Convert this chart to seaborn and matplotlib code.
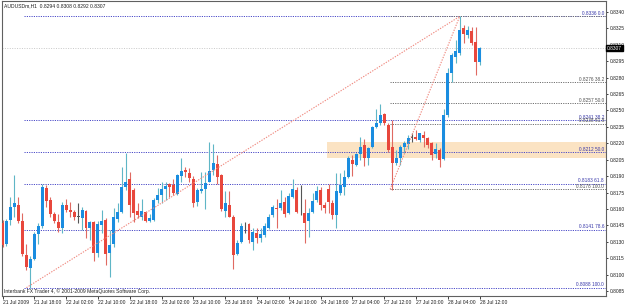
import matplotlib
matplotlib.use("Agg")
import matplotlib.pyplot as plt
import matplotlib.transforms as mtransforms
import numpy as np
import pandas as pd
import seaborn as sns

# hourly AUDUSD candles, 21 Jul 10:00 .. 28 Jul 12:00
opens = [0.8147, 0.8128, 0.8150, 0.8162, 0.8164, 0.8149, 0.8118, 0.8106, 0.8114, 0.8137,
         0.8144, 0.8179, 0.8168, 0.8155, 0.8148, 0.8143, 0.8164, 0.8159, 0.8157, 0.8153,
         0.8152, 0.8158, 0.8143, 0.8148, 0.8120, 0.8145, 0.8150, 0.8120, 0.8128, 0.8151,
         0.8157, 0.8180, 0.8187, 0.8177, 0.8158, 0.8153, 0.8157, 0.8149, 0.8150, 0.8168,
         0.8173, 0.8178, 0.8183, 0.8182, 0.8174, 0.8190, 0.8196, 0.8193, 0.8187, 0.8166,
         0.8176, 0.8178, 0.8185, 0.8196, 0.8201, 0.8191, 0.8158, 0.8164, 0.8153, 0.8119,
         0.8130, 0.8144, 0.8146, 0.8130, 0.8138, 0.8133, 0.8136, 0.8143, 0.8154, 0.8161,
         0.8161, 0.8166, 0.8156, 0.8171, 0.8177, 0.8156, 0.8156, 0.8149, 0.8157, 0.8168,
         0.8177, 0.8164, 0.8178, 0.8165, 0.8154, 0.8175, 0.8180, 0.8189, 0.8205, 0.8200,
         0.8210, 0.8218, 0.8207, 0.8217, 0.8235, 0.8239, 0.8247, 0.8237, 0.8217, 0.8202,
         0.8207, 0.8217, 0.8219, 0.8225, 0.8226, 0.8223, 0.8228, 0.8225, 0.8220, 0.8210,
         0.8214, 0.8206, 0.8246, 0.8284, 0.8299, 0.8303, 0.8325, 0.8319, 0.8323, 0.8313,
         0.8294]
highs = [0.8150, 0.8151, 0.8171, 0.8191, 0.8171, 0.8156, 0.8128, 0.8117, 0.8139, 0.8147,
         0.8183, 0.8182, 0.8171, 0.8157, 0.8155, 0.8166, 0.8169, 0.8166, 0.8159, 0.8165,
         0.8162, 0.8159, 0.8149, 0.8149, 0.8149, 0.8159, 0.8152, 0.8141, 0.8161, 0.8165,
         0.8198, 0.8211, 0.8194, 0.8179, 0.8165, 0.8169, 0.8158, 0.8155, 0.8170, 0.8179,
         0.8185, 0.8185, 0.8184, 0.8187, 0.8192, 0.8207, 0.8198, 0.8197, 0.8190, 0.8179,
         0.8194, 0.8194, 0.8221, 0.8219, 0.8209, 0.8192, 0.8176, 0.8176, 0.8154, 0.8132,
         0.8147, 0.8148, 0.8147, 0.8143, 0.8143, 0.8143, 0.8147, 0.8155, 0.8164, 0.8169,
         0.8177, 0.8171, 0.8175, 0.8187, 0.8180, 0.8182, 0.8169, 0.8161, 0.8175, 0.8181,
         0.8180, 0.8166, 0.8183, 0.8168, 0.8193, 0.8193, 0.8196, 0.8208, 0.8209, 0.8211,
         0.8226, 0.8224, 0.8217, 0.8236, 0.8251, 0.8256, 0.8248, 0.8239, 0.8241, 0.8214,
         0.8218, 0.8222, 0.8228, 0.8229, 0.8232, 0.8229, 0.8231, 0.8226, 0.8221, 0.8220,
         0.8216, 0.8251, 0.8289, 0.8303, 0.8314, 0.8336, 0.8328, 0.8327, 0.8326, 0.8326,
         0.8308]
lows = [0.8125, 0.8126, 0.8145, 0.8153, 0.8147, 0.8117, 0.8104, 0.8088, 0.8113, 0.8128,
        0.8143, 0.8162, 0.8153, 0.8147, 0.8139, 0.8138, 0.8157, 0.8153, 0.8150, 0.8147,
        0.8141, 0.8133, 0.8132, 0.8112, 0.8116, 0.8138, 0.8109, 0.8098, 0.8125, 0.8148,
        0.8156, 0.8177, 0.8153, 0.8148, 0.8152, 0.8150, 0.8148, 0.8148, 0.8149, 0.8165,
        0.8165, 0.8168, 0.8171, 0.8173, 0.8173, 0.8185, 0.8189, 0.8185, 0.8162, 0.8163,
        0.8175, 0.8160, 0.8185, 0.8191, 0.8183, 0.8158, 0.8153, 0.8153, 0.8105, 0.8118,
        0.8129, 0.8138, 0.8129, 0.8122, 0.8129, 0.8130, 0.8134, 0.8142, 0.8153, 0.8143,
        0.8159, 0.8153, 0.8155, 0.8170, 0.8156, 0.8154, 0.8129, 0.8134, 0.8156, 0.8166,
        0.8159, 0.8156, 0.8156, 0.8151, 0.8143, 0.8173, 0.8173, 0.8188, 0.8190, 0.8199,
        0.8205, 0.8199, 0.8200, 0.8216, 0.8234, 0.8237, 0.8237, 0.8212, 0.8177, 0.8200,
        0.8200, 0.8211, 0.8215, 0.8221, 0.8223, 0.8221, 0.8217, 0.8216, 0.8205, 0.8207,
        0.8198, 0.8205, 0.8244, 0.8276, 0.8293, 0.8301, 0.8312, 0.8316, 0.8310, 0.8282,
        0.8292]
closes = [0.8127, 0.8149, 0.8162, 0.8165, 0.8149, 0.8119, 0.8107, 0.8114, 0.8137, 0.8144,
          0.8180, 0.8167, 0.8155, 0.8149, 0.8143, 0.8164, 0.8159, 0.8157, 0.8153, 0.8153,
          0.8159, 0.8143, 0.8148, 0.8120, 0.8146, 0.8149, 0.8119, 0.8127, 0.8153, 0.8157,
          0.8180, 0.8185, 0.8164, 0.8156, 0.8154, 0.8158, 0.8149, 0.8152, 0.8168, 0.8173,
          0.8178, 0.8181, 0.8180, 0.8175, 0.8191, 0.8195, 0.8194, 0.8188, 0.8165, 0.8177,
          0.8178, 0.8184, 0.8195, 0.8202, 0.8189, 0.8160, 0.8165, 0.8153, 0.8118, 0.8129,
          0.8144, 0.8144, 0.8132, 0.8139, 0.8133, 0.8137, 0.8144, 0.8153, 0.8162, 0.8160,
          0.8165, 0.8155, 0.8172, 0.8178, 0.8157, 0.8156, 0.8147, 0.8156, 0.8167, 0.8176,
          0.8164, 0.8161, 0.8166, 0.8154, 0.8176, 0.8182, 0.8189, 0.8207, 0.8201, 0.8210,
          0.8217, 0.8207, 0.8216, 0.8235, 0.8239, 0.8246, 0.8239, 0.8214, 0.8202, 0.8207,
          0.8217, 0.8220, 0.8225, 0.8225, 0.8224, 0.8229, 0.8225, 0.8218, 0.8209, 0.8215,
          0.8205, 0.8246, 0.8284, 0.8301, 0.8304, 0.8324, 0.8320, 0.8324, 0.8312, 0.8294,
          0.8307]

time_labels = ["21 Jul 2009", "21 Jul 18:00", "22 Jul 02:00", "22 Jul 10:00", "22 Jul 18:00",
               "23 Jul 02:00", "23 Jul 10:00", "23 Jul 18:00", "24 Jul 02:00", "24 Jul 10:00",
               "24 Jul 18:00", "27 Jul 04:00", "27 Jul 12:00", "27 Jul 20:00", "28 Jul 04:00",
               "28 Jul 12:00"]
price_ticks = [0.8340, 0.8325, 0.8310, 0.8295, 0.8280, 0.8265, 0.8250, 0.8235, 0.8220,
               0.8205, 0.8190, 0.8175, 0.8160, 0.8145, 0.8130, 0.8115, 0.8100, 0.8085]

# fibonacci retracements: big swing and the later smaller one
fib_main_levels = [0.0, 38.2, 50.0, 61.8, 78.6, 100.0]
fib_main_prices = [0.8336, 0.8241, 0.8212, 0.8183, 0.8141, 0.8088]
fib_main_bars = [6, 115]
fib_small_levels = [38.2, 50.0, 61.8, 100.0]
fib_small_prices = [0.8276, 0.8257, 0.8238, 0.8178]
fib_small_bars = [97.5, 115]
fib_high = 0.8336
zone_low, zone_high, zone_start = 0.8207, 0.8221, 81.6
last_price = 0.8307
title = "AUDUSDm,H1  0.8294 0.8308 0.8292 0.8307"
footer = "Interbank FX Trader 4, \u00a9 2001-2009 MetaQuotes Software Corp."

sns.set_theme(style="white")
plt.rcParams['font.family'] = ['Liberation Sans', 'DejaVu Sans']

df = pd.DataFrame({"open": opens, "high": highs, "low": lows, "close": closes})
df["bar"] = np.arange(len(df))
up = df["close"] > df["open"]
down = df["close"] < df["open"]
body_col = np.where(up, "#1a8de0", np.where(down, "#e8473c", "#555555"))
wick_col = np.where(up, "#5fb6c6", np.where(down, "#e06a62", "#555555"))

fig = plt.figure(figsize=(6.25, 3.05), dpi=100)
fig.patch.set_facecolor("white")
ax = fig.add_axes([2 / 625, 9 / 305, 604 / 625, 295 / 305])
ax.set_facecolor("white")
x_right = 151.8
ax.set_xlim(-0.13, x_right)
ax.set_ylim(0.80804, 0.83501)

# shaded zone
ax.fill_between([zone_start, x_right], zone_low, zone_high, color="#fbe0bd", alpha=0.9,
                linewidth=0, zorder=0.5)

# current price line
ax.axhline(last_price, color="#c8c8c8", lw=0.7, ls=(0, (1, 1.5)), zorder=0.8)

# fib levels
for lev, p in zip(fib_main_levels, fib_main_prices):
    ax.hlines(p, fib_main_bars[0] - 0.5, x_right, color="#4a4ac8", lw=0.7,
              linestyles=(0, (1.2, 1.2)), zorder=1)
    ax.text(x_right - 0.5, p + 0.00003, f"{p:.4f} {lev:.1f}", ha="right", va="bottom",
            fontsize=3.4, color="#3535a8", zorder=6)
for lev, p in zip(fib_small_levels, fib_small_prices):
    ax.hlines(p, fib_small_bars[0], x_right, color="#707070", lw=0.7,
              linestyles=(0, (1.2, 1.2)), zorder=1)
    ax.text(x_right - 0.5, p + 0.00003, f"{p:.4f} {lev:.1f}", ha="right", va="bottom",
            fontsize=3.4, color="#505050", zorder=6)
ax.hlines(fib_high, fib_small_bars[0], x_right, color="#707070", lw=0.7,
          linestyles=(2, (1.2, 1.2)), zorder=1)

# candles
ax.vlines(df["bar"], df["low"], df["high"], colors=wick_col, lw=0.8, zorder=2)
body_h = np.maximum((df["close"] - df["open"]).abs(), 0.00004)
ax.bar(df["bar"], body_h, bottom=np.minimum(df["open"], df["close"]), width=0.75,
       color=body_col, linewidth=0, zorder=3)

# fib trend lines
trend = pd.DataFrame({"bar": [fib_main_bars[0], fib_main_bars[1]],
                      "price": [fib_main_prices[-1], fib_high], "fib": "main"})
trend2 = pd.DataFrame({"bar": [fib_small_bars[0], fib_small_bars[1]],
                       "price": [fib_small_prices[-1], fib_high], "fib": "small"})
sns.lineplot(data=pd.concat([trend, trend2]), x="bar", y="price", units="fib",
             estimator=None, color="#f08a80", lw=0.8, ax=ax, zorder=4)
for line in ax.lines[-2:]:
    line.set_linestyle((0, (1.2, 1.2)))

# axes styling
for side in ["left", "right", "bottom", "top"]:
    ax.spines[side].set_color("#606060")
    ax.spines[side].set_linewidth(0.8)
ax.yaxis.tick_right()
ax.set_yticks(price_ticks)
ax.set_yticklabels([f"{p:.4f}" for p in price_ticks])
ax.tick_params(axis="y", right=True, length=1.5, width=0.6, pad=1, labelsize=3.5,
               colors="#202020")
ax.set_xticks(np.arange(0, 8 * len(time_labels), 8))
ax.set_xticklabels(time_labels, ha="left")
ax.tick_params(axis="x", bottom=True, length=2, width=0.6, pad=1, labelsize=3.6,
               colors="#202020")
ax.set_xlabel("")
ax.set_ylabel("")

trans = mtransforms.blended_transform_factory(ax.transAxes, ax.transData)
ax.text(1.0015, last_price, f"{last_price:.4f}", transform=trans, ha="left", va="center",
        fontsize=3.5, color="white", zorder=7,
        bbox=dict(facecolor="black", edgecolor="black", pad=0.5))
ax.text(0.003, 0.992, title, transform=ax.transAxes, ha="left", va="top", fontsize=3.6,
        color="#202020")
ax.text(0.003, 0.006, footer, transform=ax.transAxes, ha="left", va="bottom", fontsize=3.6,
        color="#202020")

fig.savefig("out.png", dpi=100, facecolor="white")
